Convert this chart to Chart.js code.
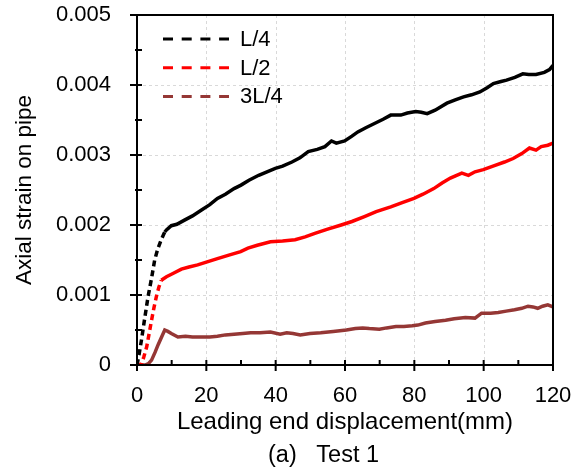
<!DOCTYPE html>
<html>
<head>
<meta charset="utf-8">
<script src="https://cdn.jsdelivr.net/npm/chart.js@4.4.0/dist/chart.umd.min.js"></script>
<style>
  body { margin: 0; background: #fff; }
  canvas { display: block; }
</style>
</head>
<body>
<canvas id="strainChart" width="587" height="470"></canvas>
<script>
// Leading end displacement (mm) and axial strain
const l4X = [0, 0.6, 1.3, 2.2, 3.2, 4.2, 5.1, 6.0, 7.0, 8.0, 8.5, 9.9, 11.5, 13.7, 16, 18.5, 21, 23.2, 25.5, 28,
  30, 32.3, 35.1, 37.5, 39.9, 42, 44.7, 47, 49.4, 52, 54.2, 56.1, 57.5, 59.9, 62, 63.7, 66, 68.5, 71, 73.2,
  76.1, 78, 80.4, 82, 83.7, 86, 89.4, 92, 94.2, 96.5, 98.9, 101, 102.8, 105, 106.6, 109, 111.3, 113, 115.1, 117.5, 119, 120];
const l4Y = [0, 0.00015, 0.00036, 0.00066, 0.00098, 0.00124, 0.0015, 0.00166, 0.00179, 0.0019, 0.00193, 0.00199, 0.00201, 0.00207, 0.00213, 0.00221, 0.00229, 0.00238, 0.00244, 0.00252,
  0.00257, 0.00264, 0.00271, 0.00276, 0.00281, 0.00284, 0.0029, 0.00296, 0.00305, 0.00308, 0.00312, 0.0032, 0.00317, 0.0032, 0.00327, 0.00333, 0.00339, 0.00345, 0.00351, 0.00357,
  0.00357, 0.0036, 0.00362, 0.00361, 0.00359, 0.00364, 0.00374, 0.00379, 0.00383, 0.00386, 0.0039, 0.00396, 0.00402, 0.00405, 0.00407, 0.00411, 0.00416, 0.00415, 0.00415, 0.00418, 0.00422, 0.00428];

const l2X = [0, 1.3, 2.0, 2.8, 3.5, 4.2, 4.9, 5.6, 6.3, 7.0, 8.5, 10.5, 12.8, 15, 17.5, 20, 23.2, 26.5, 29.9, 32,
  34.7, 38.5, 42, 45.6, 48.5, 51.3, 55, 58.9, 62, 65.6, 69, 73.2, 76.5, 79.9, 82.5, 85.6, 88, 90.4, 93.7, 95.6,
  97.5, 99.9, 103.7, 106, 108.5, 111, 113.2, 115.1, 116.6, 118.5, 120];
const l2Y = [0, 0.00001, 0.00012, 0.00026, 0.00045, 0.00064, 0.00082, 0.00098, 0.00111, 0.00121, 0.00126, 0.00131, 0.00137, 0.0014, 0.00143, 0.00147, 0.00152, 0.00157, 0.00162, 0.00167,
  0.00171, 0.00176, 0.00177, 0.00179, 0.00183, 0.00188, 0.00194, 0.002, 0.00205, 0.00212, 0.00219, 0.00226, 0.00232, 0.00238, 0.00244, 0.00252, 0.0026, 0.00267, 0.00274, 0.00271,
  0.00276, 0.00279, 0.00286, 0.0029, 0.00295, 0.00302, 0.0031, 0.00307, 0.00312, 0.00314, 0.00317];

const l34X = [0, 2.3, 3.3, 4.2, 5.2, 6.1, 7.1, 8.0, 8.9, 9.9, 11.8, 14, 16, 18.5, 21, 23.2, 25.5, 28, 30.5, 32.8,
  35.5, 38.5, 41.3, 43.2, 45, 47.1, 49.9, 53, 56.6, 60.4, 63, 65.1, 67, 69.9, 72, 74.7, 77, 79.4, 81, 83.2,
  86, 89, 91.5, 94.7, 97.5, 99.4, 102, 104.2, 106.5, 108.9, 111, 112.8, 114.2, 115.6, 117, 118.5, 120];
const l34Y = [0, 0, 0.00002, 0.00007, 0.00018, 0.00029, 0.0004, 0.0005, 0.00048, 0.00045, 0.0004, 0.00041, 0.0004, 0.0004, 0.0004, 0.00041, 0.00043, 0.00044, 0.00045, 0.00046,
  0.00046, 0.00047, 0.00044, 0.00046, 0.00045, 0.00043, 0.00045, 0.00046, 0.00048, 0.0005, 0.00052, 0.00053, 0.00052, 0.00051, 0.00053, 0.00055, 0.00055, 0.00056, 0.00057, 0.0006,
  0.00062, 0.00064, 0.00066, 0.00068, 0.00067, 0.00074, 0.00074, 0.00075, 0.00077, 0.00079, 0.00081, 0.00084, 0.00083, 0.00081, 0.00084, 0.00086, 0.00083];

const seriesNames = ['L/4', 'L/2', '3L/4'];
const xTicks = [0, 20, 40, 60, 80, 100, 120];
const yTicks = [0, 0.001, 0.002, 0.003, 0.004, 0.005];
const caption = '(a)   Test 1';

const FONT = '"Liberation Sans", Arial, sans-serif';

function toPoints(xs, ys) {
    return xs.map((x, i) => ({ x: x, y: ys[i] }));
}

// steep start of the curves is drawn dashed (sparse samples in the original)
function dashedStart(limit) {
    return { borderDash: ctx => ctx.p1.parsed.x <= limit ? [6, 4] : [] };
}

// grid lines, frame, tick marks, the in-plot legend and the caption
const framePlugin = {
    id: 'frame',
    beforeDatasetsDraw(chart) {
        const { ctx, chartArea: a, scales } = chart;
        ctx.save();
        ctx.strokeStyle = '#d9d9d9';
        ctx.lineWidth = 1;
        ctx.setLineDash([3, 3]);
        xTicks.slice(1, -1).forEach(v => {
            const px = Math.round(scales.x.getPixelForValue(v)) + 0.5;
            ctx.beginPath(); ctx.moveTo(px, a.top); ctx.lineTo(px, a.bottom); ctx.stroke();
        });
        yTicks.slice(1, -1).forEach(v => {
            const py = Math.round(scales.y.getPixelForValue(v)) + 0.5;
            ctx.beginPath(); ctx.moveTo(a.left, py); ctx.lineTo(a.right, py); ctx.stroke();
        });
        ctx.restore();
    },
    afterDatasetsDraw(chart) {
        const { ctx, chartArea: a, scales } = chart;
        ctx.save();
        ctx.strokeStyle = '#000';
        ctx.lineWidth = 2;
        ctx.setLineDash([]);
        ctx.strokeRect(a.left, a.top, a.right - a.left, a.bottom - a.top);
        for (let v = 0; v <= 120; v += 10) {
            const px = scales.x.getPixelForValue(v);
            const major = v % 20 === 0;
            ctx.beginPath();
            ctx.moveTo(px, a.bottom - 5);
            ctx.lineTo(px, a.bottom + (major ? 6 : 0));
            ctx.stroke();
        }
        for (let i = 0; i <= 10; i++) {
            const py = scales.y.getPixelForValue(i * 0.0005);
            const major = i % 2 === 0;
            ctx.beginPath();
            ctx.moveTo(a.left - (major ? 7 : 2), py);
            ctx.lineTo(a.left + 5, py);
            ctx.stroke();
        }
        // legend
        ctx.font = '22px ' + FONT;
        ctx.textBaseline = 'middle';
        chart.data.datasets.forEach((ds, i) => {
            const y = a.top + 24 + i * 28.7;
            ctx.strokeStyle = ds.borderColor;
            ctx.lineWidth = 3;
            ctx.setLineDash([10, 8.7]);
            ctx.beginPath();
            ctx.moveTo(a.left + 26, y);
            ctx.lineTo(a.left + 92, y);
            ctx.stroke();
            ctx.fillStyle = '#000';
            ctx.fillText(ds.label, a.left + 103, y + 1);
        });
        // caption below the axis title
        ctx.font = '23.5px ' + FONT;
        ctx.textAlign = 'left';
        ctx.textBaseline = 'alphabetic';
        ctx.fillText(caption, 268, 462);
        ctx.restore();
    }
};

const ctx = document.getElementById('strainChart').getContext('2d');
const chart = new Chart(ctx, {
    type: 'line',
    data: {
        datasets: [{
            label: seriesNames[0],
            data: toPoints(l4X, l4Y),
            borderColor: '#000000',
            borderWidth: 3.5,
            pointRadius: 0,
            segment: dashedStart(8)
        },
        {
            label: seriesNames[1],
            data: toPoints(l2X, l2Y),
            borderColor: '#ff0000',
            borderWidth: 3.5,
            pointRadius: 0,
            segment: dashedStart(7)
        },
        {
            label: seriesNames[2],
            data: toPoints(l34X, l34Y),
            borderColor: '#953735',
            borderWidth: 3.5,
            pointRadius: 0
        }]
    },
    options: {
        responsive: false,
        animation: false,
        layout: {
            padding: { top: 15, right: 34, left: 0, bottom: 30 }
        },
        plugins: {
            legend: { display: false },
            tooltip: { enabled: false },
            title: { display: false }
        },
        scales: {
            x: {
                type: 'linear',
                min: 0,
                max: 120,
                afterFit: scale => {
                    scale.height = 75;
                    scale.paddingLeft = 0;
                    scale.paddingRight = 0;
                },
                afterBuildTicks: scale => { scale.ticks = xTicks.map(v => ({ value: v })); },
                grid: { display: false },
                border: { display: false },
                ticks: {
                    color: '#000',
                    padding: 10,
                    maxRotation: 0,
                    font: { family: FONT, size: 22 }
                },
                title: {
                    display: true,
                    text: 'Leading end displacement(mm)',
                    color: '#000',
                    font: { family: FONT, size: 24 },
                    padding: { top: 0, bottom: 3 }
                }
            },
            y: {
                min: 0,
                max: 0.005,
                afterFit: scale => {
                    scale.width = 137;
                    scale.paddingTop = 0;
                    scale.paddingBottom = 0;
                },
                afterBuildTicks: scale => { scale.ticks = yTicks.map(v => ({ value: v })); },
                grid: { display: false },
                border: { display: false },
                ticks: {
                    color: '#000',
                    padding: 18,
                    font: { family: FONT, size: 22 },
                    callback: v => v === 0 ? '0' : v.toFixed(3)
                },
                title: {
                    display: true,
                    text: 'Axial strain on pipe',
                    color: '#000',
                    font: { family: FONT, size: 22.5 },
                    padding: { top: 11, bottom: 0 }
                }
            }
        }
    },
    plugins: [framePlugin]
});
</script>
</body>
</html>
